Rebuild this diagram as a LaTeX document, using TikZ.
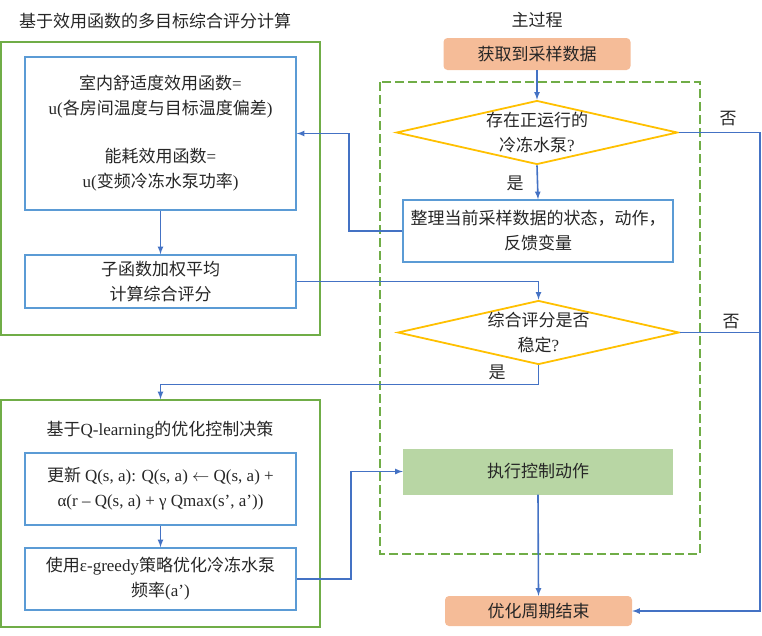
\documentclass[tikz,border=0pt]{standalone}
\usepackage{fontspec}
\setmainfont{Liberation Serif}
\newfontfamily\cjk{Noto Sans CJK SC}
\usetikzlibrary{shapes.geometric}
\definecolor{lineblue}{RGB}{68,114,196}
\definecolor{boxblue}{RGB}{91,155,213}
\definecolor{framegreen}{RGB}{112,173,71}
\definecolor{askyellow}{RGB}{255,192,0}
\definecolor{peach}{RGB}{245,188,152}
\definecolor{leaf}{RGB}{184,214,164}
\newcommand{\lat}[1]{{\rmfamily #1}}
\begin{document}
\begin{tikzpicture}[x=1pt,y=-1pt,
  txt/.style={font=\cjk\fontsize{17pt}{25pt}\selectfont, text=black!85, align=center},
  box/.style={txt, draw=boxblue, line width=1.6pt, minimum width=271pt, inner sep=2pt},
  frame/.style={draw=framegreen, line width=1.6pt},
  ask/.style={txt, diamond, draw=askyellow, line width=1.8pt, aspect=4.4, inner sep=0pt, minimum width=271pt, minimum height=61pt},
  term/.style={txt, fill=peach, rounded corners=4pt, minimum width=187pt},
  link/.style={draw=lineblue, line width=1.6pt},
  lbl/.style={txt}]
\useasboundingbox (0,0) rectangle (762,635);
% groups
\node[lbl] (t1) at (155,21) {基于效用函数的多目标综合评分计算};
\node[lbl] (t2) at (537,20) {主过程};
\node[frame, minimum width=319pt, minimum height=293pt] (uframe) at (160.5,188.5) {};
\node[frame, minimum width=319pt, minimum height=227pt] (qframe) at (160.5,513.5) {};
\draw[framegreen, line width=1.6pt, dash pattern=on 9pt off 4pt] (380,82) rectangle (700,554);
\node[lbl] (t3) at (160,430) {基于\lat{Q-learning}的优化控制决策};
% left boxes
\node[box, minimum height=153pt] (util) at (160.5,133.5) {室内舒适度效用函数\lat{=}\\\lat{u(}各房间温度与目标温度偏差\lat{)}\\[23pt]能耗效用函数\lat{=}\\\lat{u(}变频冷冻水泵功率\lat{)}};
\node[box, minimum height=53pt] (score) at (160.5,281.5) {子函数加权平均\\计算综合评分};
\node[box, minimum height=72pt] (qupd) at (160.5,489) {更新 \lat{Q(s, a): Q(s, a) $\leftarrow$ Q(s, a) +}\\\lat{α(r – Q(s, a) + γ Qmax(s’, a’))}};
\node[box, minimum height=62pt] (greedy) at (160.5,579) {使用\lat{ε-greedy}策略优化冷冻水泵\\频率\lat{(a’)}};
% main process
\node[term, minimum height=32pt] (start) at (537,54) {获取到采样数据};
\node[ask] (pump) at (537,132.5) {存在正运行的\\冷冻水泵\lat{?}};
\node[box, minimum width=270pt, minimum height=62pt] (sort) at (538,231) {整理当前采样数据的状态，动作，\\反馈变量};
\node[ask, minimum width=273pt] (stable) at (538.5,332.5) {综合评分是否\\稳定\lat{?}};
\node[txt, fill=leaf, minimum width=270pt, minimum height=46pt] (exec) at (538,471.5) {执行控制动作};
\node[term, minimum height=30pt] (stop) at (538.5,611) {优化周期结束};
\coordinate (rail) at (760,0);
% connectors
\draw[link,->,>=latex] (start) -- (pump.north);
\draw[link,->,>=latex] (pump.south) -- (sort.north);
\draw[link,->,>=latex] (sort.west) -- ++(-53,0) |- (util.east);
\draw[link,->,>=latex] (util.south) -- (score.north);
\draw[link,->,>=latex] (score.east) -| (stable.north);
\draw[link,->,>=latex] (pump.east) -- (pump.east -| rail) |- (stop.east);
\draw[link] (stable.east) -- (stable.east -| rail);
\draw[link,->,>=latex] (stable.south) -- ++(0,19) -| (qframe.north);
\draw[link,->,>=latex] (qupd.south) -- (greedy.north);
\draw[link,->,>=latex] (greedy.east) -- ++(54,0) |- (exec.west);
\draw[link,->,>=latex] (exec.south) -- (stop.north);
\node[lbl] (yes1) at (515,183) {是};
\node[lbl] (no1) at (728,119) {否};
\node[lbl] (no2) at (731,322) {否};
\node[lbl] (yes2) at (497,372) {是};
\end{tikzpicture}
\end{document}
